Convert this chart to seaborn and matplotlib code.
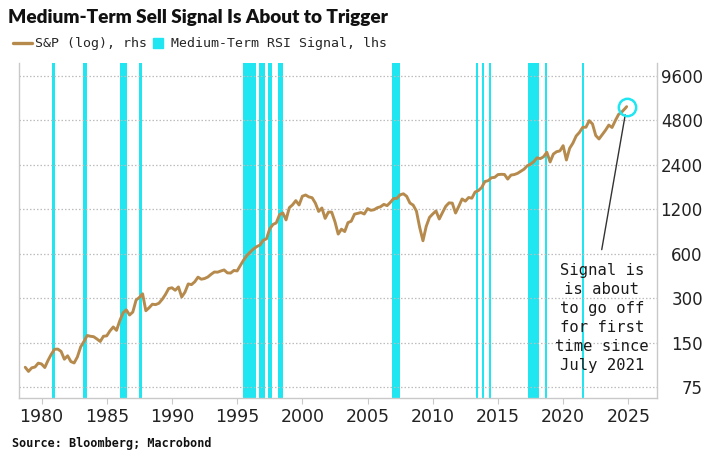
"""Medium-term RSI sell signal chart with the S&P 500 on a log scale."""
import matplotlib
matplotlib.use("Agg")
from matplotlib import pyplot as plt
from matplotlib import font_manager
from matplotlib.lines import Line2D
from matplotlib.ticker import NullLocator
import numpy as np
import pandas as pd
import seaborn as sns

# S&P 500 quarter-end levels, Q3 1978 .. Q3 2024
SPX_START = 1978.75
SPX_QUARTERLY = [
    102.5, 96.1,
    101.6, 102.9, 109.3, 107.9,
    102.1, 114.2, 125.5, 135.8,
    136.0, 131.2, 116.2, 122.6,
    112.0, 109.6, 120.4, 140.6,
    153.0, 168.1, 166.1, 164.9,
    159.2, 153.2, 166.1, 167.2,
    180.7, 191.9, 182.1, 211.3,
    238.9, 250.8, 231.3, 242.2,
    291.7, 304.0, 321.8, 247.1,
    258.9, 273.5, 271.9, 277.7,
    294.9, 318.0, 349.2, 353.4,
    339.9, 358.0, 306.1, 330.2,
    375.2, 371.2, 387.9, 417.1,
    403.7, 408.1, 417.8, 435.7,
    451.7, 450.5, 458.9, 466.5,
    445.8, 444.3, 462.7, 459.3,
    500.7, 544.8, 584.4, 615.9,
    645.5, 670.6, 687.3, 740.7,
    757.1, 885.1, 947.3, 970.4,
    1101.8, 1133.8, 1017.0, 1229.2,
    1286.4, 1372.7, 1282.7, 1469.3,
    1498.6, 1454.6, 1436.5, 1320.3,
    1160.3, 1224.4, 1040.9, 1148.1,
    1147.4, 989.8, 815.3, 879.8,
    848.2, 974.5, 996.0, 1111.9,
    1126.2, 1140.8, 1114.6, 1211.9,
    1180.6, 1191.3, 1228.8, 1248.3,
    1294.8, 1270.2, 1335.9, 1418.3,
    1420.9, 1503.4, 1526.8, 1468.4,
    1322.7, 1280.0, 1166.4, 903.3,
    735.0, 919.3, 1057.1, 1115.1,
    1169.4, 1030.7, 1141.2, 1257.6,
    1325.8, 1320.6, 1131.4, 1257.6,
    1408.5, 1362.2, 1440.7, 1426.2,
    1569.2, 1606.3, 1681.6, 1848.4,
    1872.3, 1960.2, 1972.3, 2058.9,
    2067.9, 2063.1, 1920.0, 2043.9,
    2059.7, 2098.9, 2168.3, 2238.8,
    2362.7, 2423.4, 2519.4, 2673.6,
    2640.9, 2718.4, 2914.0, 2506.9,
    2834.4, 2941.8, 2976.7, 3230.8,
    2584.6, 3100.3, 3363.0, 3756.1,
    3972.9, 4297.5, 4307.5, 4766.2,
    4530.4, 3785.4, 3585.6, 3839.5,
    4109.3, 4450.4, 4288.1, 4769.8,
    5254.4, 5460.5, 5762.5,
]
LATEST_YEAR = 2024.87
LATEST_VALUE = 5930

# medium-term RSI signal periods (lhs), start / end as decimal years
SIGNAL_START = [1980.80, 1983.15, 1986.02, 1987.50, 1995.43, 1996.65, 1997.35,
                1998.17, 2006.87, 2013.30, 2013.80, 2014.32, 2017.33, 2018.62,
                2021.47]
SIGNAL_END = [1981.02, 1983.50, 1986.52, 1987.68, 1996.45, 1997.13, 1997.65,
              1998.50, 2007.48, 2013.45, 2013.95, 2014.47, 2018.14, 2018.78,
              2021.60]

YEAR_TICKS = list(range(1980, 2030, 5))
PRICE_TICKS = [75, 150, 300, 600, 1200, 2400, 4800, 9600]

LINE_COLOR = "#B68A4C"
SIGNAL_COLOR = "#1FE6F0"
FRAME_COLOR = "#C9C9C9"

sns.set_theme(style="white")
installed = {f.name for f in font_manager.fontManager.ttflist}
TITLE_FONT = "Lato" if "Lato" in installed else "DejaVu Sans"
MONO = "DejaVu Sans Mono"
plt.rcParams["font.family"] = ["DejaVu Sans"]

spx = pd.DataFrame({
    "year": np.append(SPX_START + 0.25 * np.arange(len(SPX_QUARTERLY)), LATEST_YEAR),
    "spx": np.append(SPX_QUARTERLY, LATEST_VALUE),
})

fig = plt.figure(figsize=(7.24, 4.62), dpi=100)
ax = fig.add_axes([0.0262, 0.1385, 0.8813, 0.7251])

for start, end in zip(SIGNAL_START, SIGNAL_END):
    ax.axvspan(start, end, color=SIGNAL_COLOR, lw=0, zorder=1)

sns.lineplot(data=spx, x="year", y="spx", ax=ax, color=LINE_COLOR,
             linewidth=2.1, zorder=3)

# circle on the latest reading
ax.plot(spx["year"].iloc[-1], spx["spx"].iloc[-1], marker="o", ms=12.5,
        mfc="none", mec=SIGNAL_COLOR, mew=1.8, zorder=4)

ax.set_yscale("log")
ax.set_ylim(63.5, 11700)
ax.set_xlim(1978.27, 2027.2)
ax.set_yticks(PRICE_TICKS)
ax.set_yticklabels([str(t) for t in PRICE_TICKS])
ax.yaxis.set_minor_locator(NullLocator())
ax.set_xticks(YEAR_TICKS)
ax.set_xticklabels([str(t) for t in YEAR_TICKS])
ax.yaxis.tick_right()
ax.set_xlabel("")
ax.set_ylabel("")

for y in PRICE_TICKS:
    ax.axhline(y, color="#BDBDBD", lw=0.9, ls=(0, (1.2, 1.6)), zorder=2)

ax.tick_params(axis="y", length=0, pad=33, labelsize=12, colors="#222222")
for lbl in ax.get_yticklabels():
    lbl.set_horizontalalignment("right")
ax.tick_params(axis="x", which="both", bottom=True, length=4, width=0.8,
               color=FRAME_COLOR, labelcolor="#222222", pad=3, labelsize=12.5)

for side in ["left", "bottom", "right"]:
    ax.spines[side].set_color(FRAME_COLOR)
    ax.spines[side].set_linewidth(1.0)
ax.spines["top"].set_visible(False)

ax.annotate(
    "Signal is\nis about\nto go off\nfor first\ntime since\nJuly 2021",
    xy=(spx["year"].iloc[-1], spx["spx"].iloc[-1]),
    xytext=(2022.96, 221),
    ha="center", va="center", fontsize=11.2, family=MONO,
    linespacing=1.33, color="#1a1a1a",
)
ax.annotate(
    "", xy=(spx["year"].iloc[-1], spx["spx"].iloc[-1]), xytext=(2022.96, 640),
    arrowprops=dict(arrowstyle="-", color="#333333", lw=1.0,
                    shrinkA=0, shrinkB=6),
)

fig.text(0.011, 0.963, "Medium-Term Sell Signal Is About to Trigger",
         fontsize=13.7, weight="heavy", family=[TITLE_FONT, "DejaVu Sans"],
         va="center", ha="left", color="#111111")

handles = [
    Line2D([], [], color=LINE_COLOR, lw=2.4),
    Line2D([], [], color=SIGNAL_COLOR, lw=0, marker="s", ms=7.5),
]
fig.legend(handles, ["S&P (log), rhs", "Medium-Term RSI Signal, lhs"],
           loc="center left", bbox_to_anchor=(0.002, 0.905), ncol=2,
           frameon=False, handlelength=1.4, handletextpad=0.25,
           columnspacing=0.15, prop={"family": MONO, "size": 9.5})

fig.text(0.017, 0.041, "Source: Bloomberg; Macrobond", fontsize=8.5,
         weight="bold", family=MONO, va="center", ha="left", color="#111111")

fig.savefig("out.png", dpi=100)
